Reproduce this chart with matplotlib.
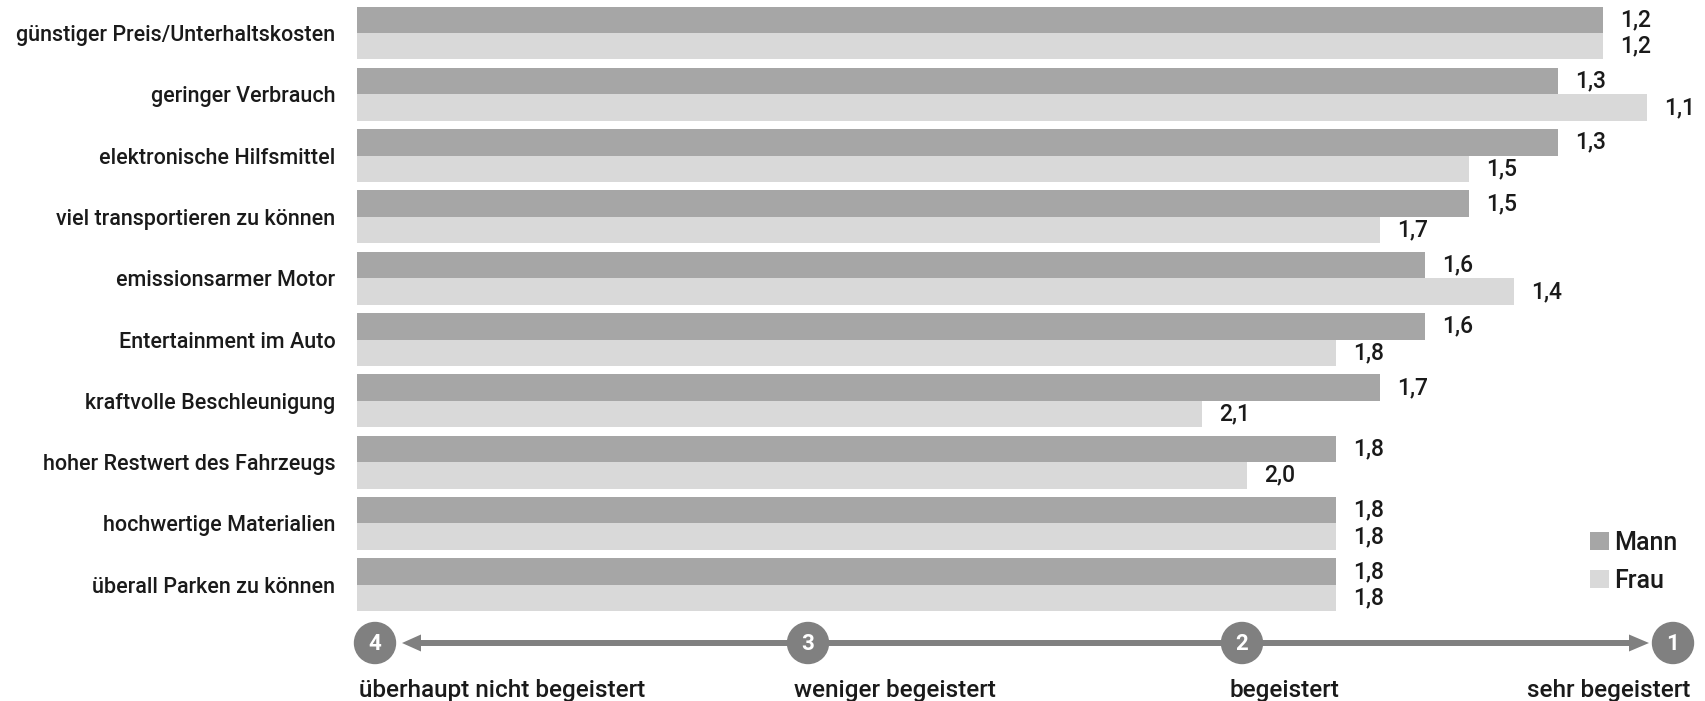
import matplotlib.pyplot as plt
from matplotlib.patches import Circle

# Daten
categories = ["günstiger Preis/Unterhaltskosten", "geringer Verbrauch", "elektronische Hilfsmittel",
              "viel transportieren zu können", "emissionsarmer Motor", "Entertainment im Auto",
              "kraftvolle Beschleunigung", "hoher Restwert des Fahrzeugs", "hochwertige Materialien",
              "überall Parken zu können"]
mann = [1.2, 1.3, 1.3, 1.5, 1.6, 1.6, 1.7, 1.8, 1.8, 1.8]
frau = [1.2, 1.1, 1.5, 1.7, 1.4, 1.8, 2.1, 2.0, 1.8, 1.8]

scale_nums = [4, 3, 2, 1]
scale_labels = ["überhaupt nicht begeistert", "weniger begeistert", "begeistert", "sehr begeistert"]

plt.rcParams['font.family'] = ['Roboto', 'DejaVu Sans']
W, H = 1706, 701
c_mann = "#a6a6a6"
c_frau = "#d9d9d9"
c_grey = "#808080"
c_text = "#1a1a1a"

fig = plt.figure(figsize=(W / 100, H / 100), dpi=100)

# Balkendiagramm
ax = fig.add_axes([357 / W, (H - 615.35) / H, 1335 / W, 613 / H])
bh = 0.432
y = list(range(len(categories)))
ax.barh([i - bh / 2 for i in y], [v - 4 for v in mann], left=4, height=bh, color=c_mann, label="Mann")
ax.barh([i + bh / 2 for i in y], [v - 4 for v in frau], left=4, height=bh, color=c_frau, label="Frau")
ax.set_xlim(4, 1)
ax.set_ylim(9.5, -0.5)

for i in y:
    ax.annotate(f"{mann[i]:.1f}".replace(".", ","), (mann[i], i - bh / 2), xytext=(17, 0),
                textcoords="offset pixels", ha="left", va="center", fontsize=16.5, color=c_text,
                fontweight="medium")
    ax.annotate(f"{frau[i]:.1f}".replace(".", ","), (frau[i], i + bh / 2), xytext=(17, 0),
                textcoords="offset pixels", ha="left", va="center", fontsize=16.5, color=c_text,
                fontweight="medium")

ax.set_yticks(y)
ax.set_yticklabels(categories, fontsize=15.5, color=c_text, fontweight="medium")
ax.tick_params(axis="y", length=0, pad=15.5)
ax.set_xticks([])
for s in ax.spines.values():
    s.set_visible(False)

leg = ax.legend(loc="upper left", bbox_to_anchor=(1590 / W, 1 - 531 / H), bbox_transform=fig.transFigure,
                frameon=False, fontsize=18, handlelength=0.75, handleheight=0.72, handletextpad=0.2,
                labelspacing=0.55, borderpad=0, borderaxespad=0, labelcolor=c_text)
for t in leg.get_texts():
    t.set_fontweight("medium")

# Skala unten
ov = fig.add_axes([0, 0, 1, 1])
ov.set_xlim(0, W)
ov.set_ylim(H, 0)
ov.axis("off")
ov.patch.set_alpha(0)

cx = [375, 808, 1242, 1673]
cy = 643
ov.plot([420, 1630], [cy, cy], color=c_grey, lw=4.3, solid_capstyle="butt", zorder=1)
ov.fill([402, 421, 421], [cy, cy - 8.5, cy + 8.5], color=c_grey, lw=0, zorder=1)
ov.fill([1649, 1629, 1629], [cy, cy - 8.5, cy + 8.5], color=c_grey, lw=0, zorder=1)
for x, n in zip(cx, scale_nums):
    ov.add_patch(Circle((x, cy), 20.5, color=c_grey, zorder=2))
    ov.text(x, cy + 1, str(n), ha="center", va="center", color="white", fontsize=16,
            fontweight="bold", zorder=3)

ov.text(359, 690, scale_labels[0], ha="left", va="center", fontsize=17.5, color=c_text, fontweight="medium")
ov.text(794, 690, scale_labels[1], ha="left", va="center", fontsize=17.5, color=c_text, fontweight="medium")
ov.text(1230, 690, scale_labels[2], ha="left", va="center", fontsize=17.5, color=c_text, fontweight="medium")
ov.text(1690, 690, scale_labels[3], ha="right", va="center", fontsize=17.5, color=c_text, fontweight="medium")

fig.savefig("out.png", dpi=100)
